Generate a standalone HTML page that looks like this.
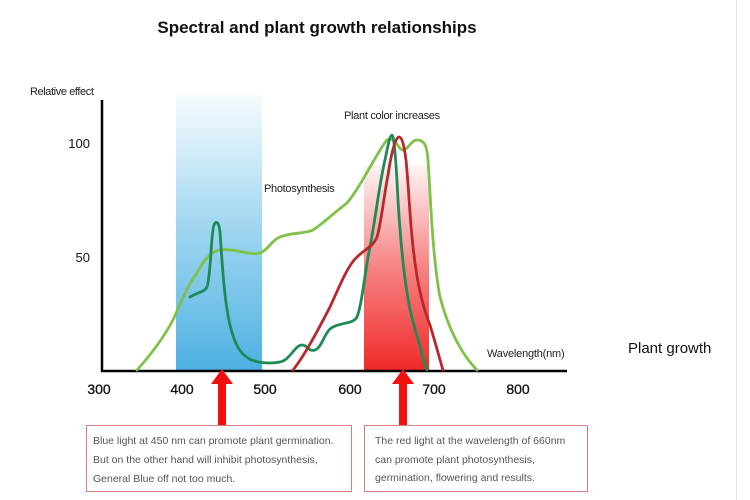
<!DOCTYPE html>
<html><head><meta charset="utf-8"><style>
body{margin:0;background:#fff;}
svg{display:block;font-family:"Liberation Sans",Arial,sans-serif;}
</style></head><body>
<svg width="750" height="500" viewBox="0 0 750 500" xmlns="http://www.w3.org/2000/svg">
<defs>
<linearGradient id="bl" x1="0" y1="0" x2="0" y2="1">
<stop offset="0" stop-color="#5ab8e6" stop-opacity="0.05"/>
<stop offset="0.5" stop-color="#5ab8e6" stop-opacity="0.6"/>
<stop offset="1" stop-color="#4cb0e2"/>
</linearGradient>
<linearGradient id="rd" x1="0" y1="0" x2="0" y2="1">
<stop offset="0" stop-color="#f03030" stop-opacity="0.05"/>
<stop offset="0.5" stop-color="#f03030" stop-opacity="0.6"/>
<stop offset="1" stop-color="#f02828"/>
</linearGradient>
</defs>
<rect x="736" y="0" width="1" height="500" fill="#e4e4e4"/>
<text x="317" y="33" font-size="17" font-weight="bold" text-anchor="middle" fill="#111">Spectral and plant growth relationships</text>
<text x="30" y="95" font-size="11" fill="#222" letter-spacing="-0.4">Relative effect</text>
<rect x="176" y="95" width="86" height="276" fill="url(#bl)"/>
<rect x="364" y="165" width="65" height="206" fill="url(#rd)"/>
<line x1="102" y1="100" x2="102" y2="372" stroke="#000" stroke-width="2.5"/>
<line x1="101" y1="371" x2="567" y2="371" stroke="#000" stroke-width="2.5"/>
<text x="90" y="148" font-size="13" text-anchor="end" fill="#111">100</text>
<text x="90" y="262" font-size="13" text-anchor="end" fill="#111">50</text>
<g font-size="14" fill="#111" text-anchor="middle" stroke="#111" stroke-width="0.3">
<text x="99" y="394">300</text><text x="182" y="394">400</text><text x="265" y="394">500</text><text x="350" y="394">600</text><text x="434" y="394">700</text><text x="518" y="394">800</text>
</g>
<text x="344" y="119" font-size="11" fill="#222" letter-spacing="-0.3">Plant color increases</text>
<text x="264" y="192" font-size="11" fill="#222" letter-spacing="-0.3">Photosynthesis</text>
<text x="487" y="357" font-size="11" fill="#222" letter-spacing="-0.2">Wavelength(nm)</text>
<text x="628" y="353" font-size="15" fill="#111">Plant growth</text>
<g fill="none" stroke-width="2.8" stroke-linecap="round" stroke-linejoin="round">
<path stroke="#7fc24a" d="M137,370 C155,350 165,335 173,320 C182,300 188,285 197,273 C205,258 212,251 220,250 C235,248 250,256 260,253 C268,250 272,240 280,237 C292,232 305,234 313,230 C325,222 335,212 347,203 C362,185 378,150 387,140 C395,135 398,150 403,150 C408,150 411,140 417,140 C424,140 427,145 428,160 C430,185 432,255 440,297 C450,335 465,358 477,370"/>
<path stroke="#1f8a55" d="M190,297 C198,292 205,292 207,287 C211,275 211,232 214,225 C216,220 219,222 220,232 C222,260 224,300 230,325 C235,345 240,353 248,358 C255,363 270,364 280,362 C290,360 295,345 302,345 C308,345 308,352 315,350 C322,348 325,330 333,327 C343,322 353,324 357,317 C362,305 365,270 370,247 C376,215 380,180 385,160 C388,145 390,135 392,135 C394,135 396,160 398,200 C401,250 405,290 412,318 C418,340 423,358 427,370"/>
<path stroke="#b8282a" d="M293,370 C305,355 318,330 330,307 C340,285 348,265 357,257 C365,249 373,247 377,237 C381,225 384,195 388,175 C391,155 395,137 399,137 C402,137 404,145 406,160 C409,190 410,225 414,255 C418,290 424,310 430,325 C436,345 440,360 443,370"/>
</g>
<rect x="218" y="381" width="8" height="45" fill="#f01010"/>
<polygon points="211,384 222,369 233,384" fill="#f01010"/>
<rect x="399" y="381" width="8" height="45" fill="#f01010"/>
<polygon points="392,384 403,369 414,384" fill="#f01010"/>
<rect x="86.5" y="425.5" width="265" height="66" fill="#fff" stroke="#d88080" stroke-width="1"/>
<rect x="364.5" y="425.5" width="223" height="66" fill="#fff" stroke="#d88080" stroke-width="1"/>
<g font-size="10.5" fill="#555">
<text x="93" y="444">Blue light at 450 nm can promote plant germination.</text>
<text x="93" y="463">But on the other hand will inhibit photosynthesis,</text>
<text x="93" y="482">General Blue off not too much.</text>
<text x="375" y="444">The red light at the wavelength of 660nm</text>
<text x="375" y="463">can promote plant photosynthesis,</text>
<text x="375" y="481">germination, flowering and results.</text>
</g>
</svg>
</body></html>
